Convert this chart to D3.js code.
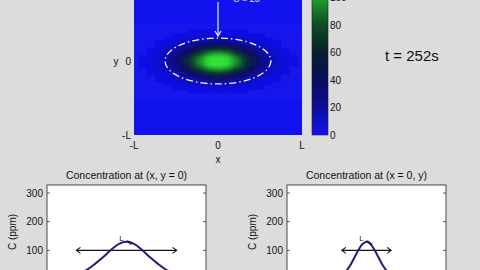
<!DOCTYPE html>
<html>
<head>
<meta charset="utf-8">
<script src="https://cdn.jsdelivr.net/npm/d3@7"></script>
<style>
  body { margin: 0; background: #dcdcdc; }
  svg { display: block; }
  text { font-family: "Liberation Sans", Arial, sans-serif; fill: #111; }
</style>
</head>
<body>
<script>
// concentration profile along x (y = 0), x in units of L
const xPos = [-1, -0.9, -0.8, -0.7, -0.6, -0.5, -0.4, -0.3, -0.2, -0.1, 0,
  0.1, 0.2, 0.3, 0.4, 0.5, 0.6, 0.7, 0.8, 0.9, 1];
const cAlongX = [1, 2, 4, 9, 18, 32, 52, 75, 100, 122, 130,
  122, 100, 75, 52, 32, 18, 9, 4, 2, 1];

// concentration profile along y (x = 0)
const yPos = [-0.5, -0.45, -0.4, -0.35, -0.3, -0.25, -0.2, -0.15, -0.1, -0.05, 0,
  0.05, 0.1, 0.15, 0.2, 0.25, 0.3, 0.35, 0.4, 0.45, 0.5];
const cAlongY = [0, 1, 3, 8, 16, 30, 50, 76, 102, 122, 130,
  122, 102, 76, 50, 30, 16, 8, 3, 1, 0];

const peakC = 130;
const ellipseHalf = { x: 0.63, y: 0.31 }; // dash-dot contour half widths
const thresholdC = 100;
const cbTicks = [0, 20, 40, 60, 80, 100];
const cTicks = [100, 200, 300];
const timeLabel = "t = 252s";

const width = 480, height = 270;
const svg = d3.select("body").append("svg")
  .attr("width", width).attr("height", height);

const defs = svg.append("defs");

// colormap
const color = d3.scaleLinear()
  .domain([0, 10, 20, 40, 60, 80, 100, 108])
  .range(["#1212ee", "#0f0fc8", "#0d0d98", "#0b0b5c", "#08202e", "#0c4a26", "#1fa02c", "#33e633"])
  .clamp(true);

// ---- top image ----
const ix = d3.scaleLinear().domain([-1, 1]).range([134, 302]);
const iy = d3.scaleLinear().domain([-1, 1]).range([135, -13]);

defs.append("clipPath").attr("id", "imgClip")
  .append("rect").attr("x", 134).attr("y", -13).attr("width", 168).attr("height", 148);
defs.append("filter").attr("id", "smooth")
  .attr("x", "-20%").attr("y", "-20%").attr("width", "140%").attr("height", "140%")
  .append("feGaussianBlur").attr("stdDeviation", "3.2 1.6");

const img = svg.append("g").attr("clip-path", "url(#imgClip)");
img.append("rect").attr("x", 134).attr("y", -13).attr("width", 168).attr("height", 148)
  .attr("fill", color(0));

const cells = [];
xPos.forEach((x, i) => yPos.forEach((y, j) => {
  cells.push({ x, y, c: cAlongX[i] * cAlongY[j] / peakC });
}));
const dx = 0.1, dy = 0.05;
img.append("g").attr("filter", "url(#smooth)")
  .selectAll("rect").data(cells).join("rect")
  .attr("x", d => ix(d.x - dx / 2))
  .attr("y", d => iy(d.y + dy / 2))
  .attr("width", ix(dx) - ix(0) + 0.3)
  .attr("height", iy(0) - iy(dy) + 0.3)
  .attr("fill", d => color(d.c));

// dash-dot contour ellipse
img.append("ellipse")
  .attr("cx", ix(0)).attr("cy", iy(0))
  .attr("rx", ix(ellipseHalf.x) - ix(0))
  .attr("ry", iy(0) - iy(ellipseHalf.y))
  .attr("fill", "none").attr("stroke", "#f4f4ff").attr("stroke-width", 1.3)
  .attr("stroke-dasharray", "7,3,1.5,3");

// arrow pointing at the contour
img.append("line")
  .attr("x1", ix(0)).attr("x2", ix(0)).attr("y1", 2).attr("y2", iy(ellipseHalf.y) - 3)
  .attr("stroke", "#e8e8ff").attr("stroke-width", 1.2);
img.append("path")
  .attr("d", `M${ix(0) - 3},${iy(ellipseHalf.y) - 7} L${ix(0)},${iy(ellipseHalf.y) - 2} L${ix(0) + 3},${iy(ellipseHalf.y) - 7}`)
  .attr("fill", "none").attr("stroke", "#e8e8ff").attr("stroke-width", 1.2);
img.append("text").attr("x", 233).attr("y", 1.5).attr("font-size", 9)
  .style("fill", "#e8e8ff").text("C = 20");

// top axes labels
const tickFont = 10;
[[-1, "-L"], [0, "0"], [1, "L"]].forEach(([v, t]) => {
  svg.append("text").attr("x", ix(v)).attr("y", 149).attr("text-anchor", "middle")
    .attr("font-size", tickFont).text(t);
});
[[-1, "-L"], [0, "0"]].forEach(([v, t]) => {
  svg.append("text").attr("x", 131).attr("y", iy(v) + 3.5).attr("text-anchor", "end")
    .attr("font-size", tickFont).text(t);
});
svg.append("text").attr("x", ix(0)).attr("y", 163).attr("text-anchor", "middle")
  .attr("font-size", tickFont).text("x");
svg.append("text").attr("x", 116).attr("y", iy(0) + 3.5).attr("text-anchor", "middle")
  .attr("font-size", tickFont).text("y");

// ---- colorbar ----
const cb = d3.scaleLinear().domain([0, 108]).range([135, -13]);
const grad = defs.append("linearGradient").attr("id", "cbGrad")
  .attr("x1", 0).attr("x2", 0).attr("y1", 1).attr("y2", 0);
d3.range(0, 109, 4).forEach(v => {
  grad.append("stop").attr("offset", v / 108).attr("stop-color", color(v));
});
svg.append("rect").attr("x", 312).attr("y", cb(108)).attr("width", 16)
  .attr("height", cb(0) - cb(108)).attr("fill", "url(#cbGrad)")
  .attr("stroke", "#222").attr("stroke-width", 0.6);
svg.append("g").selectAll("text").data(cbTicks).join("text")
  .attr("x", 330).attr("y", d => cb(d) + 3.5).attr("font-size", tickFont)
  .text(d => d);

svg.append("text").attr("x", 385).attr("y", 61).attr("font-size", 15).text(timeLabel);

// ---- bottom profile panels ----
const cy = d3.scaleLinear().domain([0, 328]).range([279, 185]);

const panels = [
  { left: 47, pos: xPos, vals: cAlongX, half: ellipseHalf.x, title: "Concentration at (x, y = 0)", id: "pA" },
  { left: 287, pos: yPos, vals: cAlongY, half: ellipseHalf.y, title: "Concentration at (x = 0, y)", id: "pB" }
];

panels.forEach(p => {
  const w = 159;
  const sx = d3.scaleLinear().domain([-1, 1]).range([p.left, p.left + w]);
  const g = svg.append("g");

  defs.append("clipPath").attr("id", p.id)
    .append("rect").attr("x", p.left).attr("y", 185).attr("width", w).attr("height", 100);

  g.append("rect").attr("x", p.left).attr("y", 185).attr("width", w).attr("height", 100)
    .attr("fill", "#fff").attr("stroke", "#222").attr("stroke-width", 0.8);

  // ticks on both sides, pointing inwards
  cTicks.forEach(v => {
    g.append("line").attr("x1", p.left).attr("x2", p.left + 3)
      .attr("y1", cy(v)).attr("y2", cy(v)).attr("stroke", "#222").attr("stroke-width", 0.7);
    g.append("line").attr("x1", p.left + w).attr("x2", p.left + w - 3)
      .attr("y1", cy(v)).attr("y2", cy(v)).attr("stroke", "#222").attr("stroke-width", 0.7);
    g.append("text").attr("x", p.left - 4).attr("y", cy(v) + 3.5).attr("text-anchor", "end")
      .attr("font-size", tickFont).text(v);
  });

  g.append("text").attr("x", p.left + w / 2).attr("y", 179).attr("text-anchor", "middle")
    .attr("font-size", 10.5).text(p.title);
  g.append("text").attr("transform", `translate(${p.left - 31},232) rotate(-90)`)
    .attr("text-anchor", "middle").attr("font-size", 10).text("C (ppm)");

  const inner = g.append("g").attr("clip-path", `url(#${p.id})`);

  // threshold width marker with arrow heads
  const y0 = cy(thresholdC), xa = sx(-p.half), xb = sx(p.half);
  inner.append("line").attr("x1", xa).attr("x2", xb).attr("y1", y0).attr("y2", y0)
    .attr("stroke", "#111").attr("stroke-width", 1.1);
  inner.append("path")
    .attr("d", `M${xa + 4},${y0 - 3} L${xa},${y0} L${xa + 4},${y0 + 3} M${xb - 4},${y0 - 3} L${xb},${y0} L${xb - 4},${y0 + 3}`)
    .attr("fill", "none").attr("stroke", "#111").attr("stroke-width", 1.1);

  const line = d3.line()
    .x((d, i) => sx(p.pos[i]))
    .y(d => cy(d))
    .curve(d3.curveCatmullRom);
  inner.append("path").datum(p.vals).attr("d", line)
    .attr("fill", "none").attr("stroke", "#1e1e7c").attr("stroke-width", 2);

  // small peak annotation
  const px = sx(0), py = cy(peakC);
  inner.append("text").attr("x", px - 5).attr("y", py - 1).attr("font-size", 8)
    .attr("text-anchor", "middle").text("L");
  inner.append("path")
    .attr("d", `M${px},${py - 1} Q${px + 4},${py - 1} ${px + 4},${py + 2} M${px + 2},${py + 1} L${px + 4},${py + 3} L${px + 6},${py + 1}`)
    .attr("fill", "none").attr("stroke", "#111").attr("stroke-width", 0.8);
});
</script>
</body>
</html>
